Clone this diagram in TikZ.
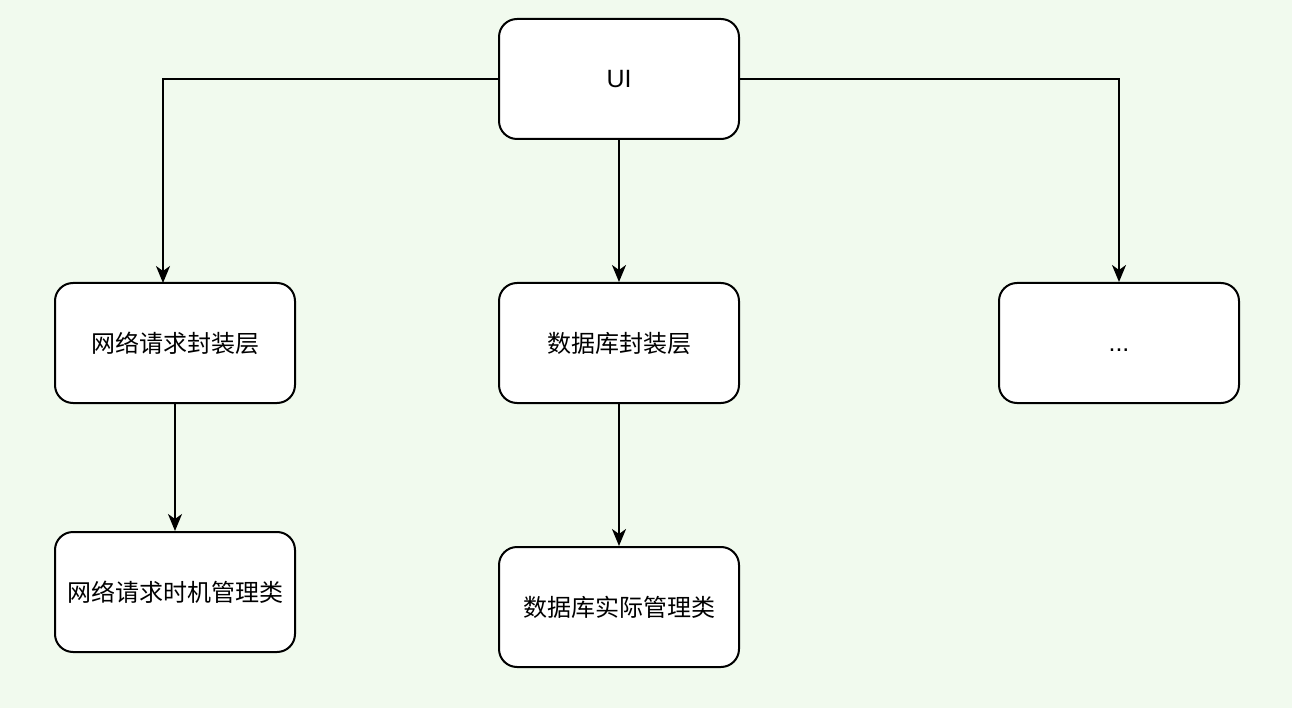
\documentclass[tikz,border=0pt]{standalone}
\usepackage{fontspec}
\setmainfont{Liberation Sans}
\newfontfamily\cjk{Noto Sans CJK SC}
\usetikzlibrary{arrows.meta}
\definecolor{bg}{HTML}{F1FAEE}
\begin{document}
\begin{tikzpicture}[x=1pt,y=-1pt,
  box/.style={draw=black,line width=2pt,fill=white,rounded corners=18pt,minimum width=240pt,minimum height=120pt,inner sep=0pt,font=\fontsize{24}{28}\selectfont\cjk},
  lat/.style={font=\fontsize{25}{28}\selectfont},
  conn/.style={line width=2pt,-{Stealth[length=17pt,width=14pt,inset=5pt]}}]
\fill[bg] (0,0) rectangle (1292,708);
\useasboundingbox (0,0) rectangle (1292,708);
\node[box,lat] (ui) at (619,79) {UI};
\node[box] (net) at (175,343) {网络请求封装层};
\node[box] (db) at (619,343) {数据库封装层};
\node[box,lat] (etc) at (1119,343) {\raisebox{-8pt}[0pt][0pt]{...}};
\node[box] (nett) at (175,592) {网络请求时机管理类};
\node[box] (dba) at (619,607) {数据库实际管理类};
\coordinate (netin) at (163,283);
\draw[conn] (ui.west) -| (netin);
\draw[conn] (ui.east) -| (etc.north);
\draw[conn] (ui.south) -- (db.north);
\draw[conn] (net.south) -- (nett.north);
\draw[conn] (db.south) -- (dba.north);
\end{tikzpicture}
\end{document}
